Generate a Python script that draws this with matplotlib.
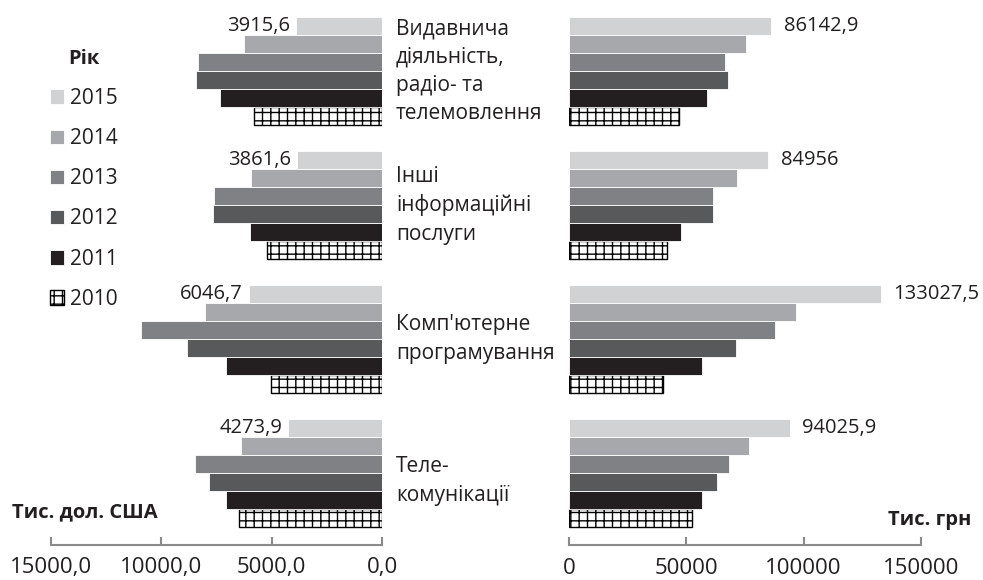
import matplotlib.pyplot as plt
import numpy as np

plt.rcParams['font.family'] = ['Open Sans', 'DejaVu Sans']

# categories, bottom to top
categories = ['Теле-\nкомунікації',
              "Комп'ютерне\nпрограмування",
              'Інші\nінформаційні\nпослуги',
              'Видавнича\nдіяльність,\nрадіо- та\nтелемовлення']
years = ['2010', '2011', '2012', '2013', '2014', '2015']

# тис. дол. США, rows = years 2010..2015, cols = categories (bottom to top)
usd = {
    '2010': [6492, 5016, 5211, 5815],
    '2011': [7050, 7064, 5996, 7320],
    '2012': [7848, 8857, 7652, 8450],
    '2013': [8495, 10935, 7622, 8329],
    '2014': [6386, 8029, 5934, 6236],
    '2015': [4273.9, 6046.7, 3861.6, 3915.6],
}
# тис. грн
uah = {
    '2010': [52280, 40180, 41880, 46740],
    '2011': [56540, 56540, 47850, 58930],
    '2012': [62930, 71030, 61480, 67750],
    '2013': [68170, 87770, 61230, 66600],
    '2014': [76820, 96720, 71450, 75290],
    '2015': [94025.9, 133027.5, 84956, 86142.9],
}
usd_labels = ['4273,9', '6046,7', '3861,6', '3915,6']
uah_labels = ['94025,9', '133027,5', '84956', '86142,9']

left_ticks = [15000, 10000, 5000, 0]
left_ticklabels = ['15000,0', '10000,0', '5000,0', '0,0']
right_ticks = [0, 50000, 100000, 150000]
right_ticklabels = ['0', '50000', '100000', '150000']

colors = {'2010': 'white', '2011': '#231f20', '2012': '#58595b',
          '2013': '#808184', '2014': '#a7a8ab', '2015': '#d1d2d4'}
txt = '#231f20'
axis_col = '#8a8a8a'

plt.rcParams['hatch.linewidth'] = 1.0

fig = plt.figure(figsize=(9.83, 5.8), dpi=100)
axL = fig.add_axes([51/983, 35/580, 331/983, 545/580])
axR = fig.add_axes([569/983, 35/580, 352/983, 545/580])

y = np.arange(len(categories))
h = 0.1345

for ax, data in ((axL, usd), (axR, uah)):
    for i, yr in enumerate(years):
        pos = y + (i - 2.5) * h
        if yr == '2010':
            ax.barh(pos, data[yr], height=h, color='white', edgecolor='black',
                    hatch='++', linewidth=1.0, label=yr)
        else:
            ax.barh(pos, data[yr], height=h, color=colors[yr],
                    edgecolor='white', linewidth=0.6, label=yr)
    ax.set_ylim(-0.54, 3.533)
    for s in ['top', 'left', 'right']:
        ax.spines[s].set_visible(False)
    ax.spines['bottom'].set_color(axis_col)
    ax.spines['bottom'].set_linewidth(1.5)
    ax.set_yticks([])
    ax.tick_params(axis='x', direction='in', length=6, width=1.5,
                   color=axis_col, labelsize=16, labelcolor=txt, pad=9)

axL.set_xlim(15000, 0)
axL.set_xticks(left_ticks)
axL.set_xticklabels(left_ticklabels)
axR.set_xlim(0, 150000)
axR.set_xticks(right_ticks)
axR.set_xticklabels(right_ticklabels)

top = y + 2.5 * h
for k in range(len(categories)):
    axL.annotate(usd_labels[k], (usd['2015'][k], top[k]), xytext=(-4, 0),
                 textcoords='offset points', ha='right', va='center',
                 fontsize=14.5, color=txt)
    axR.annotate(uah_labels[k], (uah['2015'][k], top[k]), xytext=(9, 0),
                 textcoords='offset points', ha='left', va='center',
                 fontsize=14.5, color=txt)
    dy = -6 if k == 0 else 0
    axL.annotate(categories[k], (0, y[k]), xytext=(10, dy),
                 textcoords='offset points', ha='left', va='center',
                 fontsize=15, color=txt, linespacing=1.45,
                 annotation_clip=False)

handles, labels = axL.get_legend_handles_labels()
leg = fig.legend(handles[::-1], labels[::-1], title='Рік',
                 loc='upper left', bbox_to_anchor=(31/983, 1 - 30/580),
                 frameon=False, fontsize=15, handlelength=0.7,
                 handleheight=0.7, handletextpad=0.25, labelspacing=0.92,
                 title_fontproperties={'weight': 'bold', 'size': 14.5})
for t in leg.get_texts():
    t.set_color(txt)
leg.get_title().set_color(txt)

fig.text(12/983, 1 - 512/580, 'Тис. дол. США', fontsize=14.5, fontweight='bold',
         color=txt, va='center', ha='left')
fig.text(971/983, 1 - 520/580, 'Тис. грн', fontsize=14.5, fontweight='bold',
         color=txt, va='center', ha='right')

fig.savefig('out.png', dpi=100)
